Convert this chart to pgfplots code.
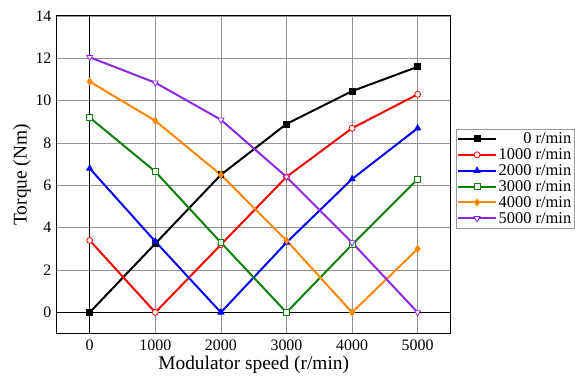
\documentclass[border=0pt]{standalone}
\usepackage{pgfplots}
\pgfplotsset{compat=1.18}
\usepackage{fontspec}
\setmainfont{Liberation Serif}
\definecolor{cgreen}{RGB}{10,130,10}
\definecolor{corange}{RGB}{255,135,0}
\definecolor{cpurple}{RGB}{140,40,230}
\begin{document}
\begin{tikzpicture}
\begin{axis}[
  name=main,
  scale only axis,
  width=394bp, height=318bp,
  xmin=-500, xmax=5500, ymin=-1, ymax=14,
  xtick={0,1000,2000,3000,4000,5000},
  ytick={0,2,4,6,8,10,12,14},
  grid=major,
  grid style={gray!85, line width=0.6pt},
  major tick length=0pt,
  axis line style={black, line width=1pt},
  /pgf/number format/assume math mode=true,
  /pgf/number format/1000 sep={},
  tick label style={font=\fontsize{16}{18}\selectfont},
  xticklabel style={yshift=-3pt},
  yticklabel style={xshift=-2pt},
  label style={font=\fontsize{19.5}{22}\selectfont},
  xlabel={Modulator speed (r/min)},
  ylabel={Torque (Nm)},
  xlabel style={yshift=2pt},
  ylabel style={yshift=-2pt},
  extra x ticks={0}, extra x tick labels={},
  extra y ticks={0}, extra y tick labels={},
  extra tick style={grid style={black, line width=1pt}},
  legend style={at={(1.013,0.488)}, anchor=west, font=\fontsize{16.5}{19}\selectfont,
    draw=gray!80, line width=0.6pt, inner sep=1.5pt, row sep=-0.5pt},
  legend cell align=right,
  legend image code/.code={\draw[mark repeat=2,mark phase=2,line width=2pt] plot coordinates {(0cm,0cm) (0.66cm,0cm) (1.32cm,0cm)};},
]
\addplot[black, line width=2pt, mark=square*, mark size=3pt, mark options={solid, line width=0.8pt}] coordinates {(0,0) (1000,3.25) (2000,6.5) (3000,8.9) (4000,10.45) (5000,11.6)};
\addlegendentry{0 r/min}
\addplot[red, line width=2pt, mark=*, mark size=3pt, mark options={fill=white, line width=0.8pt}] coordinates {(0,3.4) (1000,0) (2000,3.2) (3000,6.4) (4000,8.7) (5000,10.3)};
\addlegendentry{1000 r/min}
\addplot[blue, line width=2pt, mark=triangle*, mark size=3.5pt, mark options={line width=0.8pt}] coordinates {(0,6.8) (1000,3.35) (2000,0) (3000,3.3) (4000,6.3) (5000,8.7)};
\addlegendentry{2000 r/min}
\addplot[cgreen, line width=2pt, mark=square*, mark size=3pt, mark options={fill=white, line width=0.8pt}] coordinates {(0,9.2) (1000,6.65) (2000,3.3) (3000,0) (4000,3.2) (5000,6.3)};
\addlegendentry{3000 r/min}
\addplot[corange, line width=2pt, mark=diamond*, mark size=3.5pt, mark options={line width=0.8pt}] coordinates {(0,10.9) (1000,9.05) (2000,6.5) (3000,3.4) (4000,0) (5000,3.0)};
\addlegendentry{4000 r/min}
\addplot[cpurple, line width=2pt, mark=triangle*, mark size=3.5pt, mark options={rotate=180, fill=white, line width=0.8pt}] coordinates {(0,12.05) (1000,10.85) (2000,9.1) (3000,6.4) (4000,3.3) (5000,0)};
\addlegendentry{5000 r/min}
\end{axis}
\path ([xshift=-57bp,yshift=-48bp]main.south west) rectangle ([xshift=124bp,yshift=16bp]main.north east);
\end{tikzpicture}
\end{document}
